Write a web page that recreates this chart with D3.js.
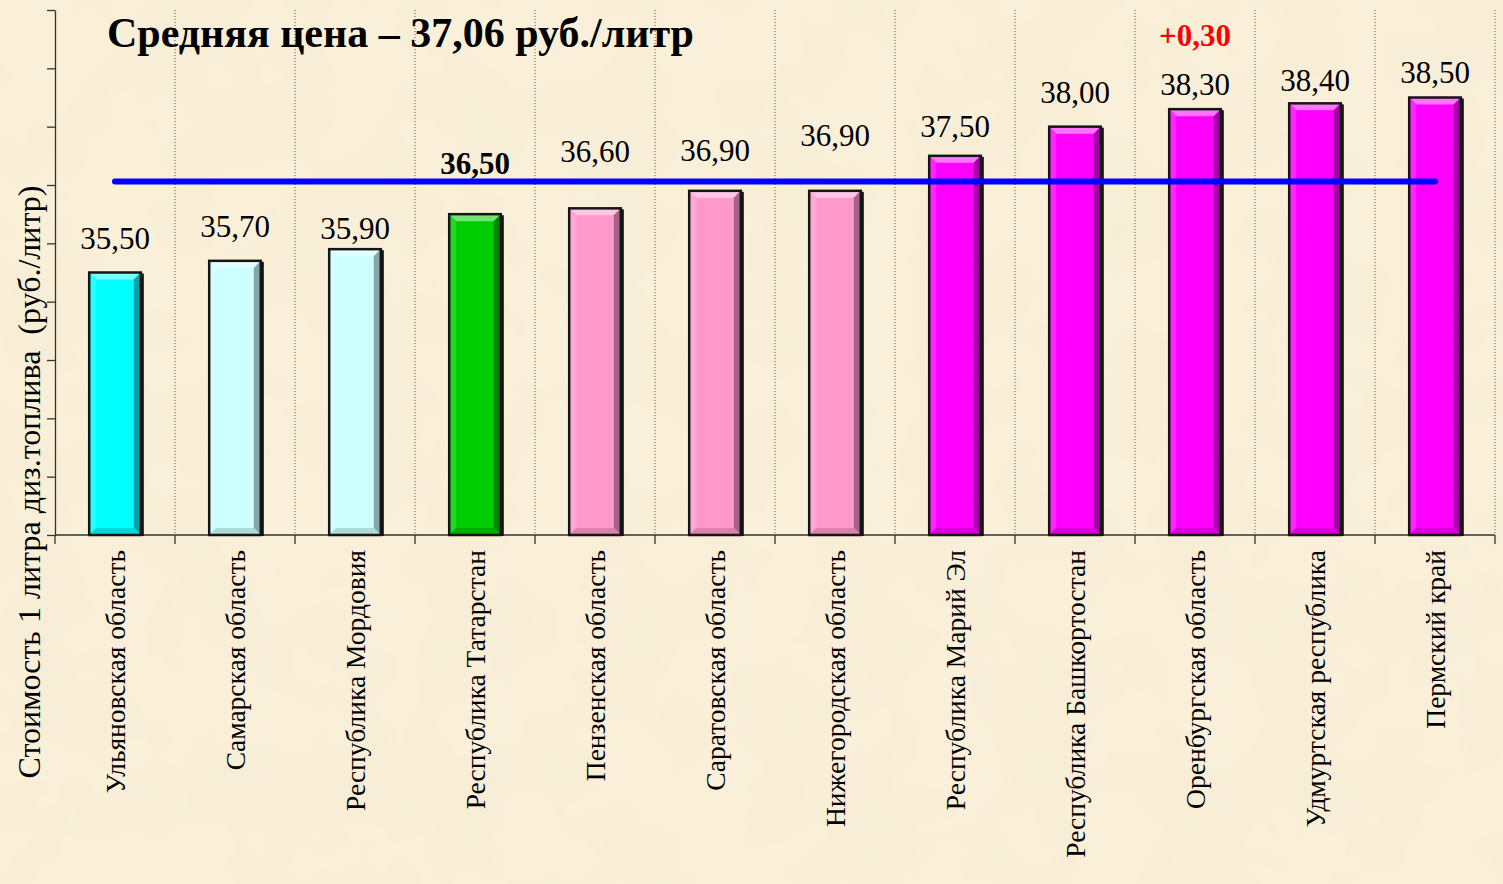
<!DOCTYPE html>
<html>
<head>
<meta charset="utf-8">
<script src="https://cdn.jsdelivr.net/npm/d3@7"></script>
<style>
	html, body { margin: 0; padding: 0; background: #f9efd7; }
	svg { display: block; }
</style>
</head>
<body>
<div id="chart"></div>
<script>
const categories = [
	"Ульяновская область",
	"Самарская область",
	"Республика Мордовия",
	"Республика Татарстан",
	"Пензенская область",
	"Саратовская область",
	"Нижегородская область",
	"Республика Марий Эл",
	"Республика Башкортостан",
	"Оренбургская область",
	"Удмуртская республика",
	"Пермский край",
];
const prices = [35.5, 35.7, 35.9, 36.5, 36.6, 36.9, 36.9, 37.5, 38.0, 38.3, 38.4, 38.5];
const averagePrice = 37.06;
const changeNote = { category: "Оренбургская область", text: "+0,30" };
const titleText = "Средняя цена – 37,06 руб./литр";
const yTitle = "Стоимость 1 литра диз.топлива  (руб./литр)";

// bar colours by group
const barColors = [
	"#00ffff", "#ccffff", "#ccffff", "#00cc00", "#ff99cc", "#ff99cc",
	"#ff99cc", "#ff00ff", "#ff00ff", "#ff00ff", "#ff00ff", "#ff00ff",
];
// how far each value label sits above its bar (as laid out in the original)
const labelLift = [34, 35, 21, 51, 57, 41, 56, 30, 35, 25, 23, 25];

const W = 1503, H = 884;
const fmt = (v) => v.toFixed(2).replace(".", ",");

const svg = d3.select("#chart").append("svg")
	.attr("width", W).attr("height", H);

// parchment background
const defs = svg.append("defs");
const f = defs.append("filter").attr("id", "paper")
	.attr("x", 0).attr("y", 0).attr("width", "100%").attr("height", "100%");
f.append("feTurbulence").attr("type", "fractalNoise")
	.attr("baseFrequency", 0.012).attr("numOctaves", 3).attr("seed", 4);
f.append("feColorMatrix").attr("type", "matrix")
	.attr("values", "0 0 0 0 0.86  0 0 0 0 0.80  0 0 0 0 0.62  0 0 0 0.9 -0.38");
f.append("feComposite").attr("in2", "SourceGraphic").attr("operator", "over");

svg.append("rect").attr("width", W).attr("height", H).attr("fill", "#faf0d9");
svg.append("rect").attr("width", W).attr("height", H).attr("fill", "#faf0d9")
	.attr("filter", "url(#paper)").attr("opacity", 0.55);

const x = d3.scaleBand().domain(categories).range([55, 1495])
	.paddingInner(0.57).paddingOuter(0.285);
const y = d3.scaleLinear().domain([31, 40]).range([535, 10]);
const step = x.step();
const left = x.range()[0];
const bounds = d3.range(categories.length + 1).map((i) => left + i * step);

// dotted vertical separators
svg.append("g").selectAll("line").data(bounds.slice(1)).join("line")
	.attr("x1", (d) => d).attr("x2", (d) => d)
	.attr("y1", y(40)).attr("y2", y(31))
	.attr("stroke", "#555").attr("stroke-width", 1)
	.attr("stroke-dasharray", "1,2");

// y axis
const yAxis = svg.append("g").attr("transform", `translate(${left},0)`)
	.call(d3.axisLeft(y).ticks(9).tickSize(8).tickSizeOuter(0).tickFormat(""));
yAxis.selectAll("path, line").attr("stroke", "#333").attr("stroke-width", 1.3);

// x axis with ticks at category boundaries
svg.append("line").attr("x1", left).attr("x2", bounds[bounds.length - 1])
	.attr("y1", y(31)).attr("y2", y(31)).attr("stroke", "#333").attr("stroke-width", 1.3);
svg.append("g").selectAll("line").data(bounds).join("line")
	.attr("x1", (d) => d).attr("x2", (d) => d)
	.attr("y1", y(31)).attr("y2", y(31) + 9)
	.attr("stroke", "#333").attr("stroke-width", 1.3);

// bars with a bevel look
const bw = x.bandwidth();
const bev = 7;
const bars = svg.append("g").selectAll("g").data(categories).join("g")
	.attr("transform", (d, i) => `translate(${x(d)},${y(prices[i])})`);
bars.each(function (d, i) {
	const g = d3.select(this);
	const h = y(31) - y(prices[i]);
	const c = d3.color(barColors[i]);
	g.append("rect").attr("x", 2).attr("y", 1).attr("width", bw + 1).attr("height", h)
		.attr("fill", "#111");
	g.append("rect").attr("width", bw).attr("height", h).attr("fill", c);
	// top bevel
	g.append("polygon")
		.attr("points", `0,0 ${bw},0 ${bw - bev},${bev} ${bev},${bev}`)
		.attr("fill", d3.interpolateRgb(c, "#fff")(0.45));
	// left bevel
	g.append("polygon")
		.attr("points", `0,0 ${bev},${bev} ${bev},${h - bev} 0,${h}`)
		.attr("fill", d3.interpolateRgb(c, "#fff")(0.15));
	// right bevel
	g.append("polygon")
		.attr("points", `${bw},0 ${bw},${h} ${bw - bev},${h - bev} ${bw - bev},${bev}`)
		.attr("fill", d3.interpolateRgb(c, "#000")(0.35));
	// bottom bevel
	g.append("polygon")
		.attr("points", `0,${h} ${bw},${h} ${bw - bev},${h - bev} ${bev},${h - bev}`)
		.attr("fill", d3.interpolateRgb(c, "#000")(0.15));
	g.append("rect").attr("width", bw).attr("height", h)
		.attr("fill", "none").attr("stroke", "#151515").attr("stroke-width", 2.5);
});

// average line
svg.append("line")
	.attr("x1", x(categories[0]) + bw / 2)
	.attr("x2", x(categories[categories.length - 1]) + bw / 2)
	.attr("y1", y(averagePrice)).attr("y2", y(averagePrice))
	.attr("stroke", "#0000ff").attr("stroke-width", 6).attr("stroke-linecap", "round");

const serif = "'Liberation Serif', 'Times New Roman', serif";

// value labels
svg.append("g").selectAll("text").data(categories).join("text")
	.attr("x", (d) => x(d) + bw / 2)
	.attr("y", (d, i) => y(prices[i]) - labelLift[i])
	.attr("dy", "0.35em")
	.attr("text-anchor", "middle")
	.attr("font-family", serif)
	.attr("font-size", 31)
	.attr("font-weight", (d) => d === "Республика Татарстан" ? "bold" : "normal")
	.attr("fill", "#000")
	.text((d, i) => fmt(prices[i]));

// change note
svg.append("text")
	.attr("x", x(changeNote.category) + bw / 2)
	.attr("y", 35).attr("dy", "0.35em")
	.attr("text-anchor", "middle")
	.attr("font-family", serif).attr("font-size", 31).attr("font-weight", "bold")
	.attr("fill", "#ff0000")
	.text(changeNote.text);

// category labels
svg.append("g").selectAll("text").data(categories).join("text")
	.attr("transform", (d) => `translate(${x(d) + bw / 2},550) rotate(-90)`)
	.attr("dy", "0.35em")
	.attr("text-anchor", "end")
	.attr("font-family", serif).attr("font-size", 27.5)
	.attr("fill", "#000")
	.text((d) => d);

// y axis title
svg.append("text")
	.attr("transform", "translate(29,482) rotate(-90)")
	.attr("dy", "0.35em")
	.attr("text-anchor", "middle")
	.attr("font-family", serif).attr("font-size", 32)
	.style("white-space", "pre")
	.attr("fill", "#000")
	.text(yTitle);

// title
svg.append("text")
	.attr("x", 107).attr("y", 47)
	.attr("font-family", serif).attr("font-size", 42).attr("font-weight", "bold")
	.attr("fill", "#000")
	.text(titleText);
</script>
</body>
</html>
